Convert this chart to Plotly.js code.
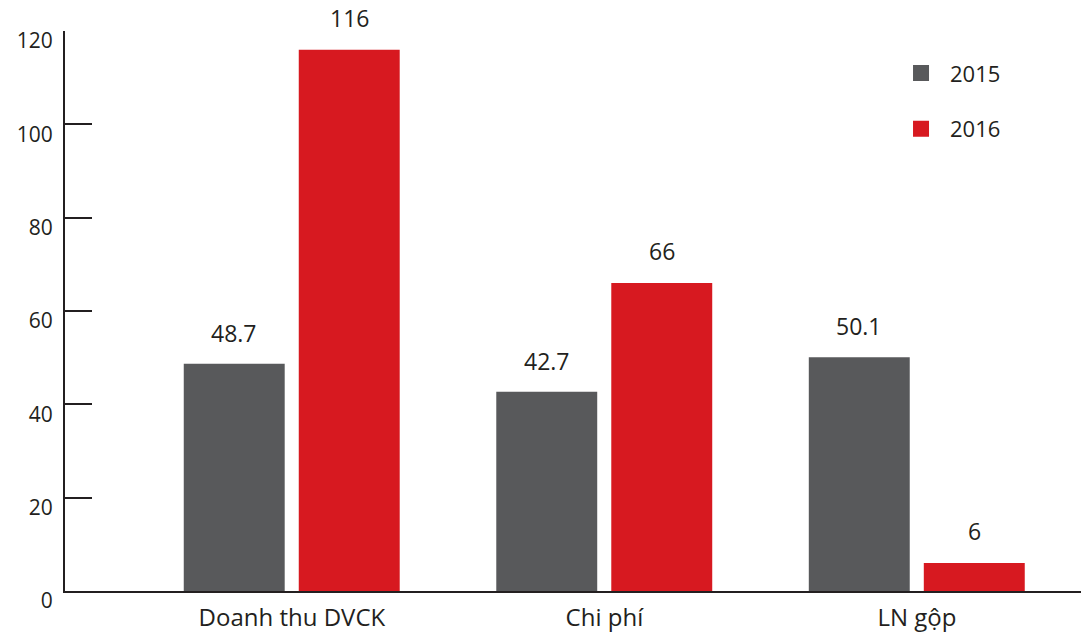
<!DOCTYPE html>
<html>
<head>
<meta charset="utf-8">
<script src="https://cdn.plot.ly/plotly-3.0.1.min.js"></script>
<style>html,body{margin:0;padding:0;background:#fff}#chart{width:1081px;height:636px}</style>
</head>
<body>
<div id="chart"></div>
<script>
const categories = ["Doanh thu DVCK", "Chi phí", "LN gộp"];
const values2015 = [48.7, 42.7, 50.1];
const values2016 = [116, 66, 6];
const labels2015 = ["48.7", "42.7", "50.1"];
const labels2016 = ["116", "66", "6"];
const seriesNames = ["2015", "2016"];
const yTicks = [0, 20, 40, 60, 80, 100, 120];

const GRAY = "#58595b";
const RED = "#d71920";
const INK = "#231f20";
const FONT = "Open Sans, Noto Sans, sans-serif";

const BAR_W = 0.323;
const OFF1 = -0.346, OFF2 = 0.022;

const traces = [
  {type: "bar", x: categories, y: values2015, name: seriesNames[0], marker: {color: GRAY},
   width: BAR_W, offset: OFF1, showlegend: false, hoverinfo: "x+y"},
  {type: "bar", x: categories, y: values2016, name: seriesNames[1], marker: {color: RED},
   width: BAR_W, offset: OFF2, showlegend: false, hoverinfo: "x+y"},
  {type: "scatter", mode: "markers", x: [null], y: [null], name: seriesNames[0],
   marker: {symbol: "square", size: 20, color: GRAY}, legendgroup: "a"},
  {type: "scatter", mode: "markers", x: [null], y: [null], name: seriesNames[1],
   marker: {symbol: "square", size: 20, color: RED}, legendgroup: "b"}
];

const annotations = [];
categories.forEach((c, i) => {
  annotations.push({x: i + OFF1 + BAR_W / 2, y: values2015[i], xref: "x", yref: "y",
    text: labels2015[i], showarrow: false, yanchor: "middle", yshift: 31,
    font: {family: FONT, size: 23, color: INK}});
  annotations.push({x: i + OFF2 + BAR_W / 2, y: values2016[i], xref: "x", yref: "y",
    text: labels2016[i], showarrow: false, yanchor: "middle", yshift: 32,
    font: {family: FONT, size: 23, color: INK}});
});

const layout = {
  width: 1081, height: 636,
  margin: {l: 65, r: 0, t: 31, b: 45},
  paper_bgcolor: "#ffffff", plot_bgcolor: "#ffffff",
  font: {family: FONT, color: INK},
  barmode: "group",
  xaxis: {
    type: "category", range: [-0.726, 2.525],
    showline: true, linecolor: INK, linewidth: 2,
    ticks: "", showgrid: false, zeroline: false,
    tickfont: {family: FONT, size: 24, color: INK},
    ticklabelstandoff: 4
  },
  yaxis: {
    range: [0, 120], tickvals: yTicks, ticktext: yTicks.map(String),
    showline: true, linecolor: INK, linewidth: 2,
    ticks: "inside", ticklen: 27, tickwidth: 2, tickcolor: INK,
    showgrid: false, zeroline: false,
    tickfont: {family: FONT, size: 21, color: INK},
    ticklabelshift: 10, ticklabelstandoff: 6
  },
  legend: {
    x: 0.814, y: 0.962, xanchor: "left", yanchor: "top",
    font: {family: FONT, size: 22, color: INK},
    traceorder: "grouped", tracegroupgap: 24, itemwidth: 48,
    bgcolor: "rgba(0,0,0,0)"
  },
  annotations: annotations,
  showlegend: true
};

Plotly.newPlot("chart", traces, layout, {displayModeBar: false, staticPlot: true});
</script>
</body>
</html>
